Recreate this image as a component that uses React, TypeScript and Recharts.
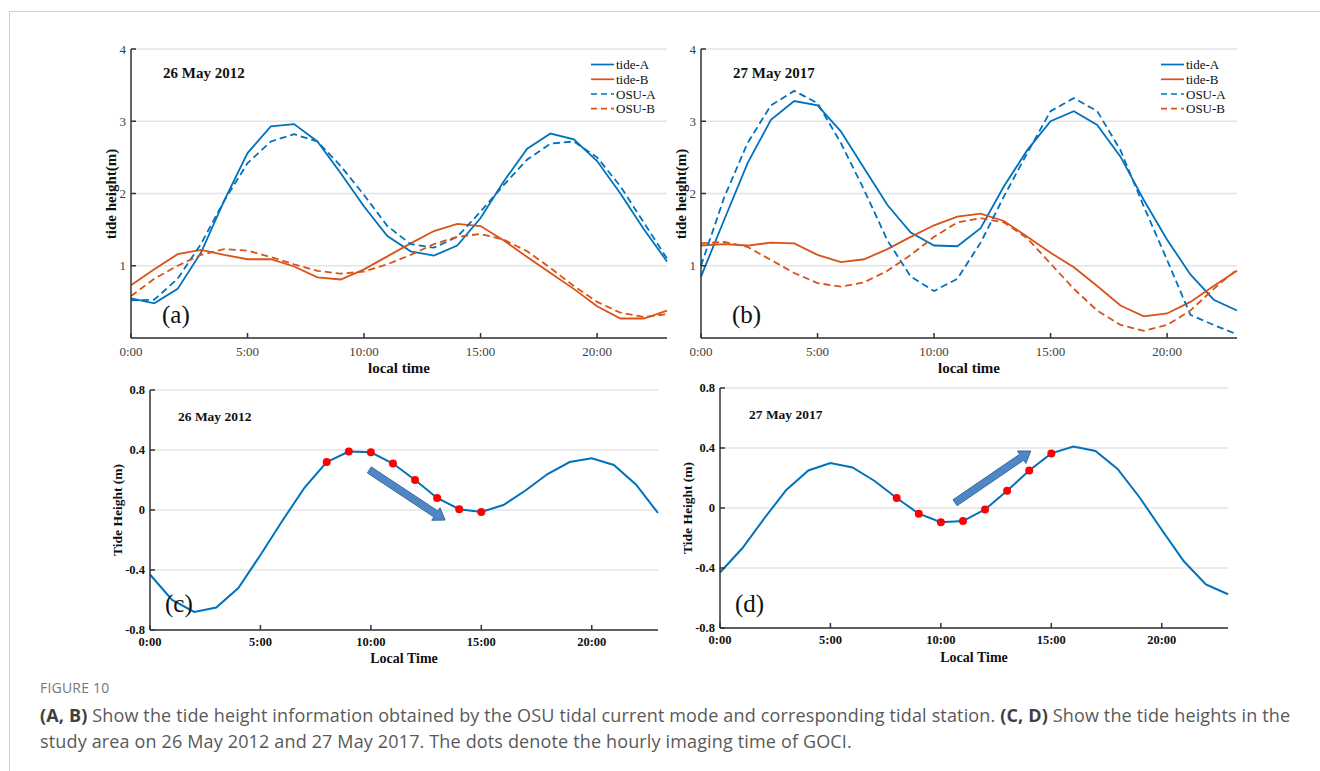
import React from 'react';
import { LineChart, Line, XAxis, YAxis, CartesianGrid, ReferenceLine } from 'recharts';

// hourly values (0:00 .. 23:00)
const hours = [0, 1, 2, 3, 4, 5, 6, 7, 8, 9, 10, 11, 12, 13, 14, 15, 16, 17, 18, 19, 20, 21, 22, 23];
const hourTicks = [0, 5, 10, 15, 20];
const tideTicks = [1, 2, 3, 4];
const anomalyTicks = [-0.8, -0.4, 0, 0.4, 0.8];

// (a) 26 May 2012, station vs OSU model
const tideA2012 = [0.55, 0.48, 0.68, 1.18, 1.9, 2.56, 2.93, 2.96, 2.72, 2.28, 1.82, 1.41, 1.2, 1.14, 1.28, 1.66, 2.17, 2.62, 2.83, 2.75, 2.45, 2.0, 1.51, 1.06];
const tideB2012 = [0.73, 0.95, 1.16, 1.22, 1.15, 1.09, 1.09, 0.99, 0.84, 0.81, 0.95, 1.13, 1.31, 1.48, 1.58, 1.55, 1.35, 1.12, 0.9, 0.68, 0.44, 0.27, 0.27, 0.38];
const osuA2012 = [0.52, 0.53, 0.82, 1.3, 1.9, 2.42, 2.72, 2.82, 2.72, 2.38, 1.98, 1.55, 1.3, 1.25, 1.4, 1.75, 2.12, 2.47, 2.69, 2.72, 2.5, 2.1, 1.6, 1.1];
const osuB2012 = [0.58, 0.82, 1.0, 1.15, 1.23, 1.21, 1.12, 1.02, 0.93, 0.89, 0.92, 1.02, 1.15, 1.3, 1.4, 1.44, 1.36, 1.2, 0.97, 0.72, 0.5, 0.35, 0.29, 0.33];

// (b) 27 May 2017
const tideA2017 = [0.85, 1.64, 2.42, 3.02, 3.28, 3.22, 2.86, 2.35, 1.84, 1.46, 1.28, 1.27, 1.52, 2.1, 2.6, 3.0, 3.14, 2.95, 2.51, 1.91, 1.36, 0.88, 0.53, 0.38];
const tideB2017 = [1.28, 1.3, 1.28, 1.32, 1.31, 1.15, 1.05, 1.09, 1.23, 1.4, 1.56, 1.68, 1.72, 1.62, 1.4, 1.18, 0.98, 0.72, 0.45, 0.3, 0.34, 0.5, 0.72, 0.93];
const osuA2017 = [1.0, 1.95, 2.7, 3.22, 3.42, 3.25, 2.7, 2.05, 1.35, 0.85, 0.65, 0.82, 1.32, 1.96, 2.56, 3.14, 3.32, 3.14, 2.6, 1.82, 1.08, 0.32, 0.18, 0.05];
const osuB2017 = [1.31, 1.33, 1.26, 1.08, 0.9, 0.76, 0.71, 0.77, 0.93, 1.15, 1.4, 1.6, 1.66, 1.6, 1.38, 1.03, 0.68, 0.38, 0.18, 0.1, 0.18, 0.38, 0.68, 0.95];

// (c), (d) tide height in the study area
const studyTide2012 = [-0.43, -0.6, -0.68, -0.65, -0.52, -0.3, -0.07, 0.15, 0.32, 0.39, 0.385, 0.31, 0.2, 0.08, 0.005, -0.013, 0.033, 0.13, 0.24, 0.32, 0.345, 0.3, 0.17, -0.02];
const studyTide2017 = [-0.43, -0.27, -0.07, 0.12, 0.25, 0.3, 0.27, 0.18, 0.067, -0.038, -0.095, -0.087, -0.01, 0.115, 0.25, 0.364, 0.41, 0.38, 0.26, 0.07, -0.145, -0.355, -0.51, -0.575];
const gociHours = [8, 9, 10, 11, 12, 13, 14, 15];

// trend arrows, [hour, height] start -> tip
const arrow2012 = [[9.93, 0.267], [13.36, -0.067]];
const arrow2017 = [[10.64, 0.035], [14.07, 0.38]];

const BLUE = '#0072BD';
const ORANGE = '#D95319';
const SERIF = "'Liberation Serif', 'Times New Roman', serif";

const fmtHour = (v: number) => `${v}:00`;
const fmtAnom = (v: number) => (v === 0 ? '0' : v.toFixed(1));

const topRows = (a: number[], b: number[], oa: number[], ob: number[]) =>
  hours.map((h, i) => ({ h, tideA: a[i], tideB: b[i], osuA: oa[i], osuB: ob[i] }));

const bottomRows = (t: number[]) =>
  hours.map((h, i) => ({ h, tide: t[i], goci: gociHours.includes(h) ? t[i] : null }));

const rowsA = topRows(tideA2012, tideB2012, osuA2012, osuB2012);
const rowsB = topRows(tideA2017, tideB2017, osuA2017, osuB2017);
const rowsC = bottomRows(studyTide2012);
const rowsD = bottomRows(studyTide2017);

const BlockArrow = (props: any) => {
  const { x1, y1, x2, y2 } = props;
  const dx = x2 - x1;
  const dy = y2 - y1;
  const len = Math.hypot(dx, dy) || 1;
  const ux = dx / len, uy = dy / len;
  const nx = -uy, ny = ux;
  const sw = 3.6, hw = 7.5, hl = 11;
  const bx = x2 - ux * hl, by = y2 - uy * hl;
  const pts = [
    [x1 + nx * sw, y1 + ny * sw],
    [bx + nx * sw, by + ny * sw],
    [bx + nx * hw, by + ny * hw],
    [x2, y2],
    [bx - nx * hw, by - ny * hw],
    [bx - nx * sw, by - ny * sw],
    [x1 - nx * sw, y1 - ny * sw],
  ];
  return <polygon points={pts.map((p) => p.join(',')).join(' ')} fill="#4f86c6" stroke="#3c6aa0" strokeWidth={1} />;
};

function TidePanel({ left, data }: { left: number; data: any[] }) {
  const tick = { fontFamily: SERIF, fontSize: 13, fill: '#404040' };
  return (
    <div style={{ position: 'absolute', left, top: 30 }}>
      <LineChart width={620} height={360} data={data} margin={{ top: 19, right: 13, bottom: 22, left: 11 }}>
        <CartesianGrid vertical={false} stroke="#e4e4e4" strokeWidth={1.5} />
        <XAxis dataKey="h" type="number" domain={[0, 23]} ticks={hourTicks} interval={0} tickFormatter={fmtHour}
          height={30} stroke="#333" strokeWidth={1.5} tickSize={-5} tickMargin={14} tick={tick} />
        <YAxis type="number" domain={[0, 4]} ticks={tideTicks} interval={0} width={60}
          stroke="#333" strokeWidth={1.5} tickSize={-5} tickMargin={10} tick={tick} />
        <Line dataKey="tideA" stroke={BLUE} strokeWidth={1.8} dot={false} isAnimationActive={false} />
        <Line dataKey="tideB" stroke={ORANGE} strokeWidth={1.8} dot={false} isAnimationActive={false} />
        <Line dataKey="osuA" stroke={BLUE} strokeWidth={1.8} strokeDasharray="7 4" dot={false} isAnimationActive={false} />
        <Line dataKey="osuB" stroke={ORANGE} strokeWidth={1.8} strokeDasharray="7 4" dot={false} isAnimationActive={false} />
      </LineChart>
    </div>
  );
}

function StudyPanel({ left, top, data, arrow }: { left: number; top: number; data: any[]; arrow: number[][] }) {
  const tick = { fontFamily: SERIF, fontSize: 12.5, fontWeight: 700, fill: '#111' };
  return (
    <div style={{ position: 'absolute', left, top }}>
      <LineChart width={590} height={290} data={data} margin={{ top: 15, right: 12, bottom: 5, left: 10 }}>
        <CartesianGrid vertical={false} stroke="#e4e4e4" strokeWidth={1.5} />
        <XAxis dataKey="h" type="number" domain={[0, 23]} ticks={hourTicks} interval={0} tickFormatter={fmtHour}
          height={30} stroke="#333" strokeWidth={1.5} tickSize={-5} tickMargin={12.5} tick={tick} />
        <YAxis type="number" domain={[-0.8, 0.8]} ticks={anomalyTicks} interval={0} tickFormatter={fmtAnom} width={60}
          stroke="#333" strokeWidth={1.5} tickSize={-5} tickMargin={10} tick={tick} />
        <Line dataKey="tide" stroke={BLUE} strokeWidth={2} dot={false} isAnimationActive={false} />
        <Line dataKey="goci" stroke="none" dot={{ r: 4, fill: '#ff0000', stroke: 'none' }} isAnimationActive={false} />
        <ReferenceLine segment={[{ x: arrow[0][0], y: arrow[0][1] }, { x: arrow[1][0], y: arrow[1][1] }]} shape={BlockArrow} />
      </LineChart>
    </div>
  );
}

const legendItems = [
  { label: 'tide-A', color: BLUE, dash: undefined },
  { label: 'tide-B', color: ORANGE, dash: undefined },
  { label: 'OSU-A', color: BLUE, dash: '6 4' },
  { label: 'OSU-B', color: ORANGE, dash: '6 4' },
];
const legendRows = [64.5, 79.3, 94, 108.7];

function Legend({ x }: { x: number }) {
  return (
    <g>
      {legendItems.map((it, i) => (
        <g key={it.label}>
          <line x1={x} x2={x + 23} y1={legendRows[i]} y2={legendRows[i]} stroke={it.color} strokeWidth={1.7} strokeDasharray={it.dash} />
          <text x={x + 25} y={legendRows[i]} dominantBaseline="central" fontFamily={SERIF} fontSize={13} fill="#111">{it.label}</text>
        </g>
      ))}
    </g>
  );
}

function Overlay() {
  const bold = { fontFamily: SERIF, fontWeight: 700, fill: '#111' };
  const letter = { fontFamily: SERIF, fontSize: 25, fill: '#111' };
  return (
    <svg width={1320} height={771} style={{ position: 'absolute', left: 0, top: 0, pointerEvents: 'none' }}>
      <text x={163} y={73} dominantBaseline="central" fontSize={15} {...bold}>26 May 2012</text>
      <text x={733} y={73} dominantBaseline="central" fontSize={15} {...bold}>27 May 2017</text>
      <text x={162} y={314} dominantBaseline="central" {...letter}>(a)</text>
      <text x={732} y={314} dominantBaseline="central" {...letter}>(b)</text>
      <Legend x={591} />
      <Legend x={1161} />
      <text x={399} y={368} textAnchor="middle" dominantBaseline="central" fontSize={15} {...bold}>local time</text>
      <text x={969} y={368} textAnchor="middle" dominantBaseline="central" fontSize={15} {...bold}>local time</text>
      <text transform="translate(111,194) rotate(-90)" textAnchor="middle" dominantBaseline="central" fontSize={15} {...bold}>tide height(m)</text>
      <text transform="translate(681,194) rotate(-90)" textAnchor="middle" dominantBaseline="central" fontSize={15} {...bold}>tide height(m)</text>

      <text x={178} y={416} dominantBaseline="central" fontSize={13.5} {...bold}>26 May 2012</text>
      <text x={749} y={414} dominantBaseline="central" fontSize={13.5} {...bold}>27 May 2017</text>
      <text x={165} y={603} dominantBaseline="central" {...letter}>(c)</text>
      <text x={735} y={603} dominantBaseline="central" {...letter}>(d)</text>
      <text x={404} y={658} textAnchor="middle" dominantBaseline="central" fontSize={14} {...bold}>Local Time</text>
      <text x={974} y={657} textAnchor="middle" dominantBaseline="central" fontSize={14} {...bold}>Local Time</text>
      <text transform="translate(117,510) rotate(-90)" textAnchor="middle" dominantBaseline="central" fontSize={13.5} {...bold}>Tide Height (m)</text>
      <text transform="translate(687,508) rotate(-90)" textAnchor="middle" dominantBaseline="central" fontSize={13.5} {...bold}>Tide Height (m)</text>
    </svg>
  );
}

export default function App() {
  const cap = { position: 'absolute' as const, left: 40, whiteSpace: 'nowrap' as const, fontFamily: "'Open Sans', sans-serif", fontSize: 18, letterSpacing: 0.15, color: '#595959' };
  const b = { fontWeight: 700, color: '#404040' };
  return (
    <div style={{ position: 'absolute', left: 0, top: 0, width: 1320, height: 771, background: '#fff', overflow: 'hidden' }}>
      <div style={{ position: 'absolute', left: 9, top: 11, width: 1311, height: 760, borderTop: '1.5px solid #cfcfcf', borderLeft: '1.5px solid #cfcfcf', boxSizing: 'border-box' }} />
      <TidePanel left={60} data={rowsA} />
      <TidePanel left={630} data={rowsB} />
      <StudyPanel left={80} top={375} data={rowsC} arrow={arrow2012} />
      <StudyPanel left={650} top={373} data={rowsD} arrow={arrow2017} />
      <Overlay />
      <div style={{ ...cap, top: 678, fontSize: 14, letterSpacing: 0.2, color: '#777' }}>FIGURE 10</div>
      <div style={{ ...cap, top: 703 }}>
        <span style={b}>(A, B)</span> Show the tide height information obtained by the OSU tidal current mode and corresponding tidal station. <span style={b}>(C, D)</span> Show the tide heights in the
      </div>
      <div style={{ ...cap, top: 729 }}>study area on 26 May 2012 and 27 May 2017. The dots denote the hourly imaging time of GOCI.</div>
    </div>
  );
}
